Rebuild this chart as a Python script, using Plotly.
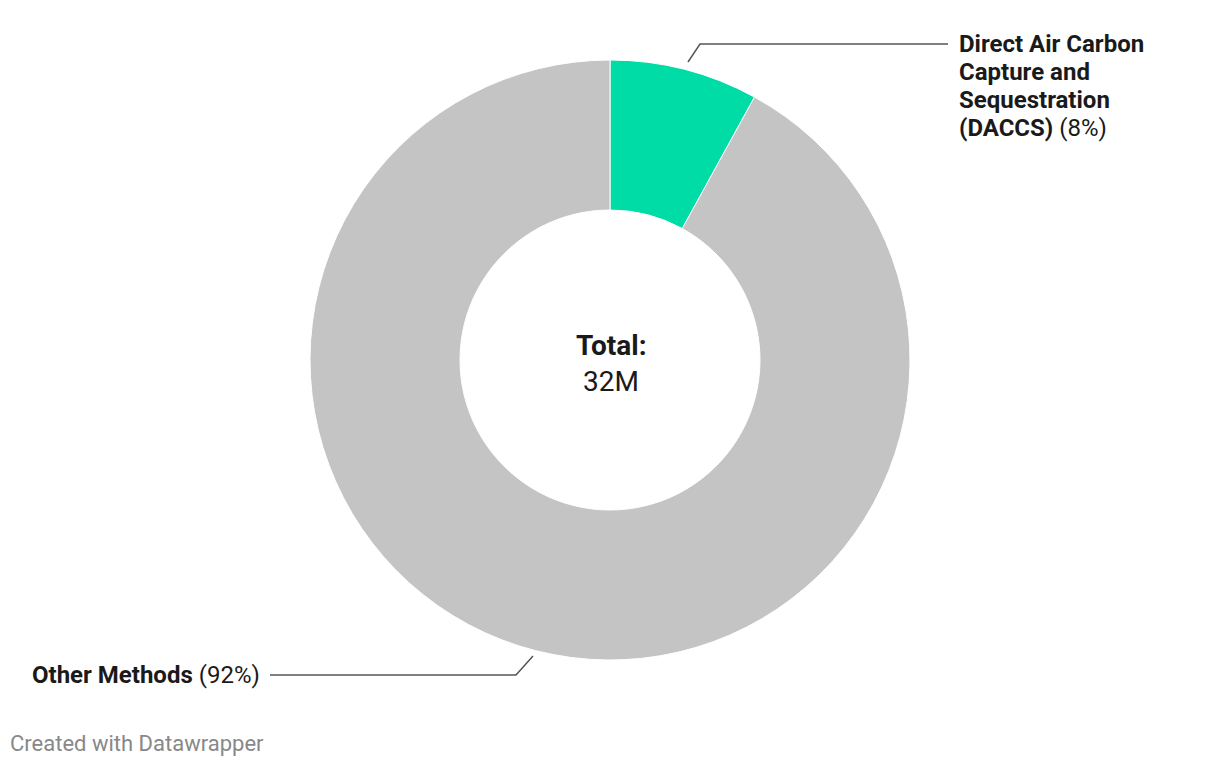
import plotly.graph_objects as go

categories = ["Direct Air Carbon Capture and Sequestration (DACCS)", "Other Methods"]
shares = [8, 92]
colors = ["#00DCA6", "#C4C4C4"]
total_label = "32M"

W, H = 1220, 766
OFF = 8  # page body margin offset
FONT = "Roboto, 'Open Sans', sans-serif"

def px(x):
    return (x - OFF) / W

def py(y):
    return 1 - (y - OFF) / H

fig = go.Figure(go.Pie(
    labels=categories,
    values=shares,
    hole=0.5,
    sort=False,
    direction="clockwise",
    rotation=0,
    marker=dict(colors=colors, line=dict(color="white", width=1)),
    textinfo="none",
    hoverinfo="label+percent",
    showlegend=False,
    domain=dict(x=[0, px(1212)], y=[py(660), py(60)]),
))

# leader lines
line_style = dict(color="#555555", width=1.5)
fig.add_shape(type="path", xref="paper", yref="paper",
              path=f"M {px(688)} {py(62)} L {px(700)} {py(44)} L {px(948)} {py(44)}",
              line=line_style)
fig.add_shape(type="path", xref="paper", yref="paper",
              path=f"M {px(533)} {py(656)} L {px(516)} {py(675)} L {px(270)} {py(675)}",
              line=line_style)

ann = []
daccs_lines = ["<b>Direct Air Carbon</b>", "<b>Capture and</b>", "<b>Sequestration</b>",
               f"<b>(DACCS)</b> ({shares[0]}%)"]
for i, t in enumerate(daccs_lines):
    ann.append(dict(x=px(957), y=py(44 + 28 * i), text=t, showarrow=False,
                    xanchor="left", yanchor="middle", xref="paper", yref="paper",
                    font=dict(size=24, color="#1a1a1a", family=FONT)))
ann.append(dict(x=px(262), y=py(675), text=f"<b>Other Methods</b> ({shares[1]}%)",
                showarrow=False, xanchor="right", yanchor="middle", xref="paper", yref="paper",
                font=dict(size=24, color="#1a1a1a", family=FONT)))
ann.append(dict(x=px(611), y=py(345), text="<b>Total:</b>", showarrow=False,
                xanchor="center", yanchor="middle", xref="paper", yref="paper",
                font=dict(size=28, color="#1a1a1a", family=FONT)))
ann.append(dict(x=px(611), y=py(381), text=total_label, showarrow=False,
                xanchor="center", yanchor="middle", xref="paper", yref="paper",
                font=dict(size=28, color="#1a1a1a", family=FONT)))
ann.append(dict(x=px(8), y=py(743), text="Created with Datawrapper", showarrow=False,
                xanchor="left", yanchor="middle", xref="paper", yref="paper",
                font=dict(size=22, color="#888888", family=FONT)))

fig.update_layout(
    width=W, height=H,
    margin=dict(l=0, r=0, t=0, b=0),
    paper_bgcolor="white", plot_bgcolor="white",
    annotations=ann,
    font=dict(family=FONT),
)

fig.write_html("out.html")
